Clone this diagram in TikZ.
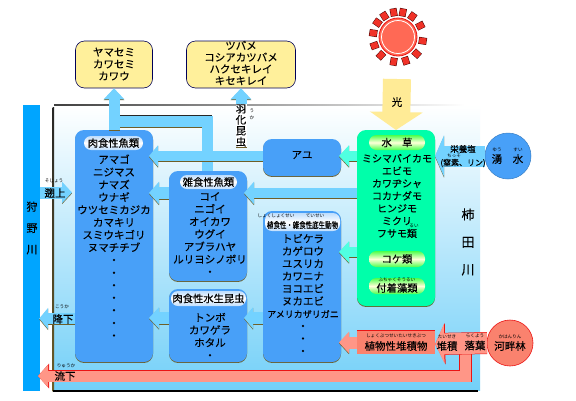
\documentclass[tikz,border=0pt]{standalone}
\usepackage{fontspec}
\usepackage{graphicx}
\setmainfont[FakeBold=0.25]{Noto Sans CJK JP}
\newfontfamily\rubyfont{Noto Sans CJK JP}
\usetikzlibrary{arrows.meta}
\definecolor{boxblue}{RGB}{72,160,248}
\definecolor{sky}{RGB}{115,210,255}
\definecolor{cyanarrow}{RGB}{80,255,225}
\definecolor{plantgreen}{RGB}{0,255,170}
\definecolor{salmon}{RGB}{255,150,135}
\definecolor{rincolor}{RGB}{250,130,110}
\definecolor{birdyellow}{RGB}{255,240,155}
\definecolor{lightyellow}{RGB}{255,235,150}
\definecolor{edgeolive}{RGB}{110,95,40}
\definecolor{rivercolor}{RGB}{0,165,255}
\definecolor{sunred}{RGB}{255,105,85}
\definecolor{raysred}{RGB}{240,50,40}
\definecolor{edgered}{RGB}{235,20,20}
\newcommand{\fs}[2]{\fontsize{#1}{#2}\selectfont}
\tikzset{
  x=1pt,y=-1pt,
  nbox/.style={inner sep=0,outer sep=0,rounded corners=9,minimum width=78,fill=boxblue,
    preaction={fill=edgeolive,transform canvas={yshift=-0.9pt}}},
  birdbox/.style={inner sep=0,rounded corners=9,fill=birdyellow,draw=black!65!blue,line width=.6},
  listtxt/.style={inner sep=0,align=center,font=\fs{10.5}{12.57}},
  rubytxt/.style={inner sep=0,font=\rubyfont\fs{4.6}{5}},
  bluepill/.style={inner sep=0,rounded corners=7,top color=boxblue!35,bottom color=boxblue!35,middle color=white,font=\fs{10.3}{12}},
  greenpill/.style={inner sep=0,rounded corners=7.5,minimum width=56,top color=green!70!white,bottom color=green!70!white,middle color=yellow!15,font=\fs{10.3}{12}},
  blk/.style n args={3}{line width=#1,-{Triangle[length=#2,width=#3]}},
  edgecopy/.style={edgeolive,transform canvas={yshift=-0.9pt}},
  lbl/.style={inner sep=0,font=\fs{10.5}{12}},
  circ/.style={circle,inner sep=0,minimum size=46,outer sep=0},
}
\newcommand{\arr}[6]{% colour, width, head length, head width, from, to
  \draw[edgecopy,blk={#2}{#3}{#4}] #5 -- #6;
  \draw[#1,blk={#2}{#3}{#4}] #5 -- #6;}
\begin{document}
\begin{tikzpicture}
\useasboundingbox (0,0) rectangle (576,400);
\fill[white] (0,0) rectangle (576,400);
% pond background
\shade[top color=white,middle color={rgb,255:red,195;green,238;blue,252},bottom color={rgb,255:red,115;green,208;blue,248}] (54,105) rectangle (480,390);
\shade[left color=black!75,right color=white] (54,104.5) rectangle (465,105.7);
\shade[top color=black!85,bottom color=edgeolive] (52.5,107) rectangle (54,391);
\fill[black] (53,390.3) rectangle (478,391.6);
% Kano river
\node[inner sep=0,minimum width=17,minimum height=286,fill=rivercolor] (kano) at (31.5,248) {};
\node[inner sep=0,align=center,font=\fs{11}{21.3}] (kanotxt) at (32,228) {狩\\野\\川};
\node[inner sep=0,align=center,font=\fs{13}{27.5}] (kakita) at (468,242) {柿\\田\\川};

% bird boxes
\node[birdbox,minimum width=77,minimum height=47] (bird1) at (114,64.5) {};
\node[birdbox,minimum width=109,minimum height=47] (bird2) at (241,64.5) {};
\node[inner sep=0,align=center,font=\fs{10.5}{12}] (bird1t) at (114,64) {ヤマセミ\\カワセミ\\カワウ};
\node[inner sep=0,align=center,font=\fs{10.5}{11.7}] (bird2t) at (241,63) {ツバメ\\コシアカツバメ\\ハクセキレイ\\キセキレイ};

% boxes (named first, drawn here so the arrows lie on top)
\coordinate (branch) at (207,121.5);
\coordinate (imagotail) at (241,147);
\draw[sky,line width=11] (207,172) -- (branch) -- (114,121.5);
\draw[black!85,line width=.9] (119,115.8) -- (212,115.8);
\draw[edgeolive,line width=.8] (119,127.4) -- (202,127.4);
\node[nbox,minimum height=232] (niku) at (114,246) {};
\node[nbox,minimum height=37] (ayu) at (302,157.5) {};
\node[nbox,minimum height=110] (zatsu) at (208,226) {};
\node[nbox,minimum height=73] (kon) at (208,325.5) {};
\node[nbox,minimum height=151] (sho) at (302,286.5) {};
\node[inner sep=0,outer sep=0,rounded corners=9,minimum width=78,minimum height=176,fill=plantgreen,
  preaction={fill=edgeolive,transform canvas={yshift=-0.9pt}}] (mizu) at (396,218) {};

% up arrows
\arr{sky}{11}{11}{20}{(niku.north)}{(bird1.south)}
\arr{sky}{11}{11}{20}{(imagotail)}{(bird2.south)}
\node[inner sep=0,fill=white,minimum width=11,minimum height=43,align=center,font=\fs{10.5}{11}] (imago) at (241,125.5) {羽\\化\\昆\\虫};
\node[inner sep=0,align=center,font=\rubyfont\fs{4.6}{7}] (imagor) at (252,114.5) {う\\か};

% horizontal arrows
\arr{sky}{10}{9}{21}{(ayu.west |- 0,156)}{([xshift=-4pt]niku.east |- 0,156)}
\arr{sky}{12}{10}{22}{(zatsu.west |- 0,193)}{([xshift=-4pt]niku.east |- 0,193)}
\arr{sky}{12}{10}{21}{(kon.west |- 0,318)}{([xshift=-4pt]niku.east |- 0,318)}
\arr{sky}{12}{9}{21}{(sho.west |- 0,318)}{([xshift=-3pt]kon.east |- 0,318)}
\arr{sky}{10}{10}{22}{(mizu.west |- 0,193)}{([xshift=-3pt]zatsu.east |- 0,193)}
\arr{cyanarrow}{10}{10}{21}{(mizu.west |- 0,156)}{([xshift=-2pt]ayu.east |- 0,156)}
\arr{cyanarrow}{10}{10}{21}{(mizu.west |- 0,252)}{([xshift=-2pt]sho.east |- 0,252)}
% river exchange
\coordinate (upstart) at (40,192.5);
\arr{sky}{12}{10}{21}{(upstart)}{([xshift=-3pt]niku.west |- 0,192.5)}
\arr{sky}{11}{9}{21}{(niku.west |- 0,318.5)}{([xshift=-1pt]kano.east |- 0,318.5)}

% sun and light
\coordinate (sun) at (398,37);
\foreach \a in {100,79,55,27,-9,-42,-72,-100,-133,-160,171,145,123}{
  \draw[black!70!red,line width=7] (sun) ++(-\a:21) -- ++(-\a:8);
  \draw[raysred,line width=6] (sun) ++(-\a:21.5) -- ++(-\a:7);
}
\node[circle,inner sep=0,minimum size=38,fill=sunred,draw=edgered,line width=.8] (sunc) at (sun) {};
\draw[white,line width=.8] (sun) circle (16.5);
\coordinate (lighttail) at (397,79);
\draw[lightyellow,line width=28,-{Triangle[length=18,width=52]}] (lighttail) -- (mizu.north);
\node[lbl] (hikari) at (397,102) {光};

% spring
\node[circ,fill=boxblue,draw=boxblue!80!black,line width=.5] (wak) at (508,156) {};
\arr{sky}{21}{9}{41}{(wak.west)}{(mizu.east |- wak.west)}
\node[lbl] (wak1) at (497,159) {湧};
\node[lbl] (wak2) at (518,159) {水};
\node[rubytxt] (wakr1) at (497,149.5) {ゆう};
\node[rubytxt] (wakr2) at (518,149.5) {すい};
\node[inner sep=0,font=\fs{8.5}{10}] (eiyo) at (463,149) {栄養塩};
\node[inner sep=0,font=\fs{8}{10}] (chisso) at (463,163) {(窒素、リン)};
\node[rubytxt] (chissor) at (454,156) {ちっそ};

% forest and bottom flow
\coordinate (flowstart) at (465.5,350);
\coordinate (flowcorner) at (465.5,376);
\coordinate (flowtip) at (38,376);
\draw[edgered,line width=12.6,-{Triangle[length=11,width=24]}] (flowstart) -- (flowcorner) -- (flowtip);
\draw[salmon,line width=11,-{Triangle[length=10,width=21.5]}] (flowstart) -- (flowcorner) -- (flowtip);
\node[inner sep=0,minimum width=78,minimum height=23,fill=rincolor] (rect) at (396,342.5) {};
\draw[edgered,line width=.8] (rect.north west) -- (rect.north east);
\node[circ,fill=rincolor,draw=edgered,line width=.6] (rin) at (510,343) {};
\draw[edgered,-{Triangle[length=10,width=41]},line width=22] (rin.west) -- (rect.east |- 0,344);
\draw[salmon,-{Triangle[length=9,width=39]},line width=21] (rin.west) -- (rect.east |- 0,344);
\arr{salmon}{12}{10}{21}{(rect.west |- 0,342.5)}{([xshift=-2pt]sho.east |- 0,342.5)}
\node[lbl] (rint) at (510,346) {河畔林};
\node[rubytxt] (rinr) at (510,337) {かはんりん};
\node[lbl] (rakuyo) at (475,345.5) {落葉};
\node[rubytxt] (rakuyor) at (475,336) {らくよう};
\node[lbl] (taiseki) at (447,346) {堆積};
\node[rubytxt] (taisekir) at (447,337) {たいせき};
\node[lbl] (shoku) at (396,346) {植物性堆積物};
\node[rubytxt] (shokur) at (396,336) {しょくぶつせいたいせきぶつ};
\node[lbl] (ryuka) at (65,376) {流下};
\node[rubytxt] (ryukar) at (66,366) {りゅうか};
\node[lbl] (koka) at (63,319) {降下};
\node[rubytxt] (kokar) at (62,307) {こうか};
\node[lbl] (sojo) at (55,193) {遡上};
\node[rubytxt] (sojor) at (54,181) {そじょう};

% pills and lists
\node[bluepill,minimum width=59,minimum height=14] (p1) at (113.5,143) {肉食性魚類};
\node[bluepill,minimum width=57,minimum height=14] (p2) at (208.5,182) {雑食性魚類};
\node[bluepill,minimum width=75,minimum height=15] (p3) at (208.5,298.5) {肉食性水生昆虫};
\node[bluepill,minimum width=75,minimum height=18] (p4) at (302.5,222) {};
\node[inner sep=0,font=\fs{8.5}{10}] (p4t) at (302.5,225) {\scalebox{.76}[1]{植食性・雑食性底生動物}};
\node[rubytxt] (p4r1) at (276,216) {しょくしょくせい};
\node[rubytxt] (p4r2) at (315,216) {ていせい};
\node[greenpill,minimum height=15] (g1) at (397,142.5) {水　草};
\node[greenpill,minimum height=16] (g2) at (397,259) {コケ類};
\node[greenpill,minimum height=16] (g3) at (397,286) {};
\node[inner sep=0,font=\fs{10.3}{12}] (g3t) at (397,288) {付着藻類};
\node[rubytxt] (g3r) at (397,280) {ふちゃくそうるい};
\node[rubytxt] (minor) at (414,226) {るい};

\node[listtxt] (l1) at (114,247) {アマゴ\\ニジマス\\ナマズ\\ウナギ\\ウツセミカジカ\\カマキリ\\スミウキゴリ\\ヌマチチブ\\・\\・\\・\\・\\・\\・\\・};
\node[listtxt] (l2) at (210,234) {コイ\\ニゴイ\\オイカワ\\ウグイ\\アブラハヤ\\ルリヨシノボリ\\・};
\node[listtxt] (l3) at (210,336) {トンボ\\カワゲラ\\ホタル\\・};
\node[inner sep=0,align=center,font=\fs{10.5}{12.5}] (l4) at (303,294.5) {トビケラ\\カゲロウ\\ユスリカ\\カワニナ\\ヨコエビ\\ヌカエビ\\{\fs{9}{12.5}アメリカザリガニ}\\・\\・\\・};
\node[inner sep=0,font=\fs{10.5}{12}] (ayut) at (302,155) {アユ};
\node[inner sep=0,align=center,font=\fs{10}{12.5}] (l5) at (397,196) {ミシマバイカモ\\エビモ\\カワヂシャ\\コカナダモ\\ヒンジモ\\ミクリ\\フサモ類};
\end{tikzpicture}
\end{document}
